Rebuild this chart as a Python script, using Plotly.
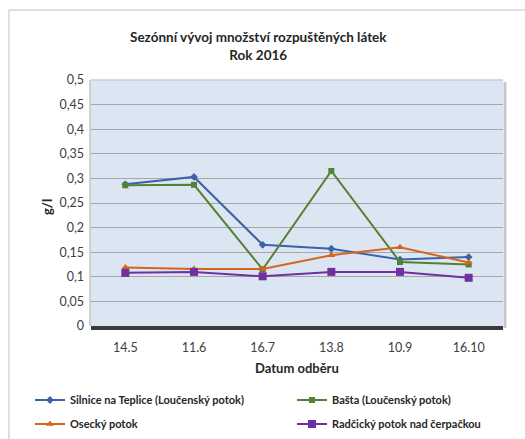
import plotly.graph_objects as go

# Sampling dates (day.month) and dissolved solids (g/l) per site
dates = ["14.5", "11.6", "16.7", "13.8", "10.9", "16.10"]
silnice = [0.288, 0.303, 0.165, 0.157, 0.135, 0.140]
basta = [0.286, 0.287, 0.115, 0.315, 0.130, 0.125]
osecky = [0.119, 0.116, 0.116, 0.144, 0.160, 0.129]
radcicky = [0.108, 0.110, 0.101, 0.110, 0.110, 0.098]

# name, values, colour, marker, marker size, legend id
series = [
    ("Silnice na Teplice (Loučenský potok)", silnice, "#3C62A8", "diamond", 6, "legend"),
    ("Bašta (Loučenský potok)", basta, "#548235", "square", 6, "legend2"),
    ("Osecký potok", osecky, "#D8641C", "triangle-up", 7, "legend3"),
    ("Radčický potok nad čerpačkou", radcicky, "#7030A0", "square", 8, "legend4"),
]

FONT = "Lato, sans-serif"

fig = go.Figure()
for name, vals, color, sym, size, leg in series:
    fig.add_trace(go.Scatter(
        x=dates, y=vals, name=name, mode="lines+markers",
        line=dict(color=color, width=2),
        marker=dict(symbol=sym, size=size, color=color),
        legend=leg,
    ))

W, H = 525, 439
L, R, T, B = 91, 22, 80, 113
pw, ph = W - L - R, H - T - B


def px_x(x):
    return (x - L) / pw


def px_y(y):
    return (H - B - y) / ph


def legend_at(x, y):
    return dict(
        x=px_x(x), y=px_y(y), xanchor="left", yanchor="middle",
        font=dict(family=FONT, size=11, color="#262626", weight="bold"),
        bgcolor="rgba(0,0,0,0)", itemwidth=30,
    )


fig.update_layout(
    width=W, height=H,
    margin=dict(l=L, r=R, t=T, b=B, autoexpand=False),
    paper_bgcolor="white",
    plot_bgcolor="#DCE6F2",
    separators=", ",
    font=dict(family=FONT, size=12, color="#404040"),
    showlegend=True,
    legend=legend_at(30, 400),
    legend2=legend_at(292, 400),
    legend3=legend_at(30, 424),
    legend4=legend_at(292, 424),
    xaxis=dict(
        type="category", range=[-0.5, 5.5],
        showgrid=False, showline=True, linecolor="#3A3A3A", linewidth=4,
        ticks="", tickfont=dict(size=12.5, color="#404040"),
        ticklabelstandoff=7,
    ),
    yaxis=dict(
        range=[0, 0.5], tickvals=[0, 0.05, 0.1, 0.15, 0.2, 0.25, 0.3, 0.35, 0.4, 0.45, 0.5],
        showgrid=True, gridcolor="#A6A6A6", gridwidth=1,
        zeroline=False, showline=False, ticks="",
        tickfont=dict(size=12.5, color="#404040"), ticklabelstandoff=6,
    ),
    annotations=[
        dict(text="<b>Sezónní vývoj množství rozpuštěných látek</b><br><b>Rok 2016</b>",
             xref="paper", yref="paper", x=px_x(258), y=px_y(46),
             xanchor="center", yanchor="middle", showarrow=False,
             font=dict(family=FONT, size=13.5, color="#262626")),
        dict(text="<b>g/l</b>", textangle=-90,
             xref="paper", yref="paper", x=px_x(47), y=px_y(207),
             xanchor="center", yanchor="middle", showarrow=False,
             font=dict(family=FONT, size=13, color="#262626")),
        dict(text="<b>Datum odběru</b>",
             xref="paper", yref="paper", x=px_x(297), y=px_y(368),
             xanchor="center", yanchor="middle", showarrow=False,
             font=dict(family=FONT, size=13, color="#262626")),
    ],
    shapes=[
        # chart frame
        dict(type="rect", xref="paper", yref="paper",
             x0=px_x(9), y0=px_y(460), x1=px_x(540), y1=px_y(10),
             line=dict(color="#BFBFBF", width=1), fillcolor="rgba(0,0,0,0)", layer="below"),
        # plot-area shadow on the right, top and left edges
        dict(type="line", xref="paper", yref="paper",
             x0=px_x(505), y0=px_y(82), x1=px_x(505), y1=px_y(328),
             line=dict(color="#C8C8C8", width=3)),
        dict(type="line", xref="paper", yref="paper",
             x0=0, y0=1, x1=1, y1=1,
             line=dict(color="#C8CED6", width=1.5)),
        dict(type="line", xref="paper", yref="paper",
             x0=px_x(90), y0=px_y(80), x1=px_x(90), y1=px_y(326),
             line=dict(color="#D0D0D0", width=2)),
    ],
)

fig.write_html("out.html")
